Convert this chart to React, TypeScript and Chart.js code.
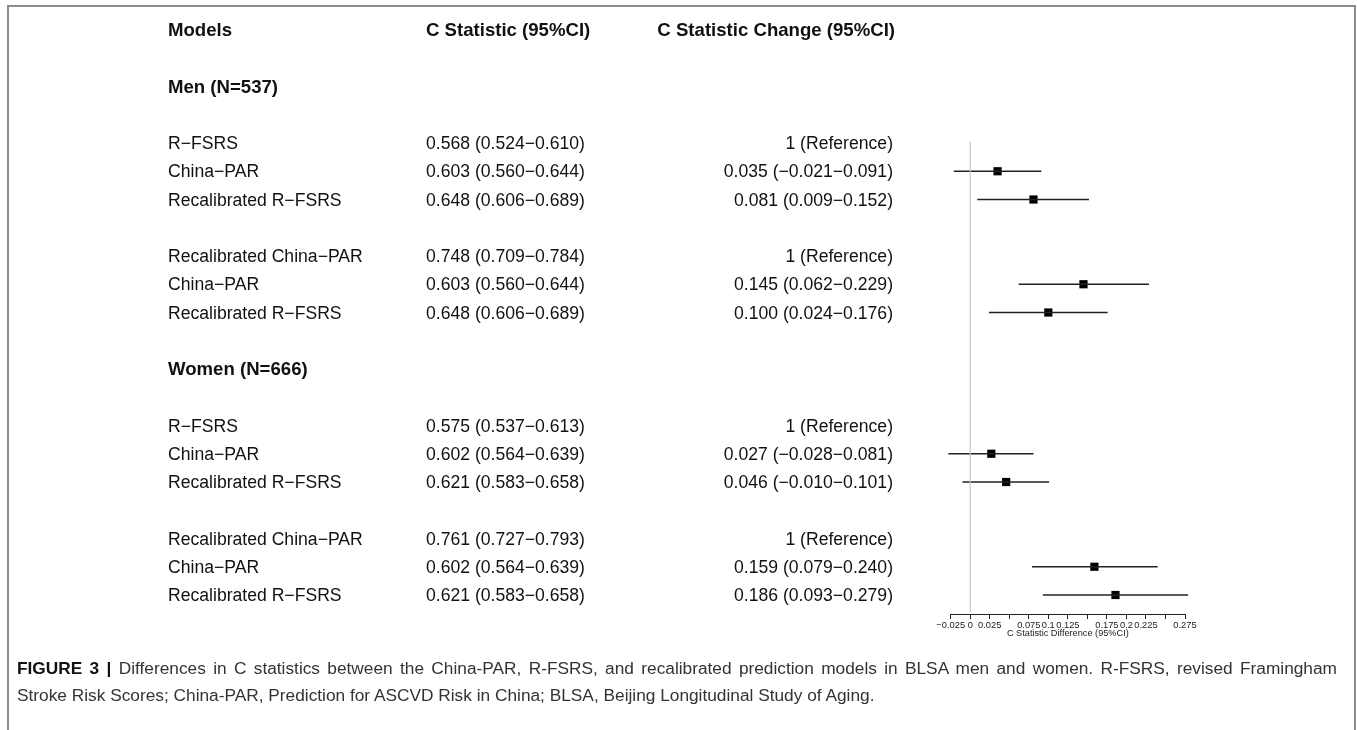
import React, { useEffect, useRef } from "react";
import { Chart, registerables } from "chart.js";

Chart.register(...registerables);

// ---------- data ----------
const headerLabels = ["Models", "C Statistic (95%CI)", "C Statistic Change (95%CI)"];
const groupTitles = ["Men (N=537)", "Women (N=666)"];
const modelNames = [
  "R−FSRS", "China−PAR", "Recalibrated R−FSRS",
  "Recalibrated China−PAR", "China−PAR", "Recalibrated R−FSRS",
  "R−FSRS", "China−PAR", "Recalibrated R−FSRS",
  "Recalibrated China−PAR", "China−PAR", "Recalibrated R−FSRS",
];
const cStatistic = [
  "0.568 (0.524−0.610)", "0.603 (0.560−0.644)", "0.648 (0.606−0.689)",
  "0.748 (0.709−0.784)", "0.603 (0.560−0.644)", "0.648 (0.606−0.689)",
  "0.575 (0.537−0.613)", "0.602 (0.564−0.639)", "0.621 (0.583−0.658)",
  "0.761 (0.727−0.793)", "0.602 (0.564−0.639)", "0.621 (0.583−0.658)",
];
const cChange = [
  "1 (Reference)", "0.035 (−0.021−0.091)", "0.081 (0.009−0.152)",
  "1 (Reference)", "0.145 (0.062−0.229)", "0.100 (0.024−0.176)",
  "1 (Reference)", "0.027 (−0.028−0.081)", "0.046 (−0.010−0.101)",
  "1 (Reference)", "0.159 (0.079−0.240)", "0.186 (0.093−0.279)",
];
const estimate = [null, 0.035, 0.081, null, 0.145, 0.1, null, 0.027, 0.046, null, 0.159, 0.186];
const lowerCI = [null, -0.021, 0.009, null, 0.062, 0.024, null, -0.028, -0.01, null, 0.079, 0.093];
const upperCI = [null, 0.091, 0.152, null, 0.229, 0.176, null, 0.081, 0.101, null, 0.24, 0.279];
const xTickValues = [-0.025, 0, 0.025, 0.05, 0.075, 0.1, 0.125, 0.15, 0.175, 0.2, 0.225, 0.25, 0.275];
const xTickLabels = ["−0.025", "0", "0.025", "", "0.075", "0.1", "0.125", "", "0.175", "0.2", "0.225", "", "0.275"];
const xAxisTitle = "C Statistic Difference (95%CI)";
const captionBold = "FIGURE 3 |";
const captionLine1 =
  " Differences in C statistics between the China-PAR, R-FSRS, and recalibrated prediction models in BLSA men and women. R-FSRS, revised Framingham";
const captionLine2 = "Stroke Risk Scores; China-PAR, Prediction for ASCVD Risk in China; BLSA, Beijing Longitudinal Study of Aging.";

// ---------- layout ----------
const W = 1357;
const H = 730;
const FONT = "'Liberation Sans', Arial, Helvetica, sans-serif";
const Y0 = 30;
const ROW_H = 28.25;
const AXIS_Y = 614;
const X_LEFT = 950.7;
const X_RIGHT = 1185;
const X_AXIS_H = 25;
const Y_MIN = 3.5;
const Y_MAX = (AXIS_Y - Y0) / ROW_H;
const COL1_X = 168;
const COL2_X = 426;
const COL3_RIGHT = 893;
const HEAD3_RIGHT = 895;
const TEXT_SIZE = 17.6;
const BOLD_SIZE = 18.6;

const rowOf = (i: number) => 4 + Math.floor(i / 6) * 10 + (Math.floor(i / 3) % 2) * 4 + (i % 3);
const headingRow = (g: number) => 2 + g * 10;
const yOf = (r: number) => Y0 + ROW_H * r;

const textStyle = (y: number, bold = false): React.CSSProperties => ({
  position: "absolute",
  top: y - 11,
  height: 22,
  lineHeight: "22px",
  fontSize: bold ? BOLD_SIZE : TEXT_SIZE,
  fontFamily: FONT,
  fontWeight: bold ? 700 : 400,
  whiteSpace: "nowrap",
  color: "#111",
});

export default function App() {
  const ref = useRef<HTMLCanvasElement | null>(null);

  useEffect(() => {
    if (!ref.current) return;
    const ciSets = estimate
      .map((e, i) => ({ e, i }))
      .filter((d) => d.e !== null)
      .map((d) => ({
        data: [
          { x: lowerCI[d.i] as number, y: rowOf(d.i) },
          { x: upperCI[d.i] as number, y: rowOf(d.i) },
        ],
        showLine: true,
        borderColor: "#222",
        borderWidth: 1.6,
        pointRadius: 0,
        clip: false as any,
      }));
    const points = {
      data: estimate
        .map((e, i) => (e === null ? null : { x: e, y: rowOf(i) }))
        .filter((p) => p !== null) as { x: number; y: number }[],
      pointStyle: "rect" as const,
      pointRadius: 5.8,
      backgroundColor: "#000",
      borderColor: "#000",
      borderWidth: 0,
      showLine: false,
      clip: false as any,
    };
    const refLine = {
      data: [
        { x: 0, y: 3.95 },
        { x: 0, y: Y_MAX - 0.07 },
      ],
      showLine: true,
      borderColor: "#c9c9c9",
      borderWidth: 1.2,
      pointRadius: 0,
      clip: false as any,
    };
    const chart = new Chart(ref.current, {
      type: "scatter",
      data: { datasets: [refLine, ...ciSets, points] as any },
      options: {
        responsive: false,
        animation: false,
        events: [],
        layout: {
          padding: {
            left: X_LEFT,
            right: W - X_RIGHT,
            top: Y0 + ROW_H * Y_MIN,
            bottom: H - AXIS_Y - X_AXIS_H,
          },
        },
        plugins: { legend: { display: false }, tooltip: { enabled: false } },
        scales: {
          x: {
            type: "linear",
            min: -0.025,
            max: 0.275,
            afterBuildTicks: (s: any) => {
              s.ticks = xTickValues.map((v) => ({ value: v }));
            },
            afterFit: (s: any) => {
              s.height = X_AXIS_H;
            },
            grid: {
              display: true,
              drawOnChartArea: false,
              drawTicks: true,
              tickLength: 5,
              color: "#222",
              lineWidth: 1,
            },
            border: { display: true, color: "#222", width: 1 },
            ticks: {
              autoSkip: false,
              maxRotation: 0,
              padding: 1,
              color: "#222",
              font: { family: FONT, size: 9.3 },
              callback: (_v: any, i: number) => xTickLabels[i],
            },
            title: {
              display: true,
              text: xAxisTitle,
              color: "#222",
              padding: 0,
              font: { family: FONT, size: 9.2, lineHeight: 1.1 },
            },
          },
          y: { type: "linear", display: false, reverse: true, min: Y_MIN, max: Y_MAX },
        },
      },
    });
    return () => chart.destroy();
  }, []);

  return (
    <div
      style={{
        position: "fixed",
        left: 0,
        top: 0,
        width: W,
        height: H,
        overflow: "hidden",
        background: "#fff",
      }}
    >
      <div
        style={{
          position: "absolute",
          left: 7,
          top: 5,
          width: 1349,
          height: 760,
          borderTop: "2px solid #8c8c8c",
          borderLeft: "2px solid #8c8c8c",
          borderRight: "2px solid #8c8c8c",
          boxSizing: "border-box",
        }}
      />
      <canvas ref={ref} width={W} height={H} style={{ position: "absolute", left: 0, top: 0, width: W, height: H }} />
      <span style={{ ...textStyle(yOf(0), true), left: COL1_X }}>{headerLabels[0]}</span>
      <span style={{ ...textStyle(yOf(0), true), left: COL2_X }}>{headerLabels[1]}</span>
      <span style={{ ...textStyle(yOf(0), true), right: W - HEAD3_RIGHT, textAlign: "right" }}>{headerLabels[2]}</span>
      {groupTitles.map((g, gi) => (
        <span key={"g" + gi} style={{ ...textStyle(yOf(headingRow(gi)), true), left: COL1_X }}>
          {g}
        </span>
      ))}
      {modelNames.map((m, i) => (
        <React.Fragment key={"r" + i}>
          <span style={{ ...textStyle(yOf(rowOf(i))), left: COL1_X }}>{m}</span>
          <span style={{ ...textStyle(yOf(rowOf(i))), left: COL2_X }}>{cStatistic[i]}</span>
          <span style={{ ...textStyle(yOf(rowOf(i))), right: W - COL3_RIGHT, textAlign: "right" }}>{cChange[i]}</span>
        </React.Fragment>
      ))}
      <div
        style={{
          position: "absolute",
          left: 17,
          top: 655,
          width: 1320,
          fontFamily: FONT,
          fontSize: 17.3,
          lineHeight: "27px",
          color: "#333",
          whiteSpace: "nowrap",
        }}
      >
        <div style={{ textAlign: "justify", textAlignLast: "justify", whiteSpace: "normal" }}>
          <b style={{ color: "#111" }}>{captionBold}</b>
          {captionLine1}
        </div>
        <div>{captionLine2}</div>
      </div>
    </div>
  );
}
